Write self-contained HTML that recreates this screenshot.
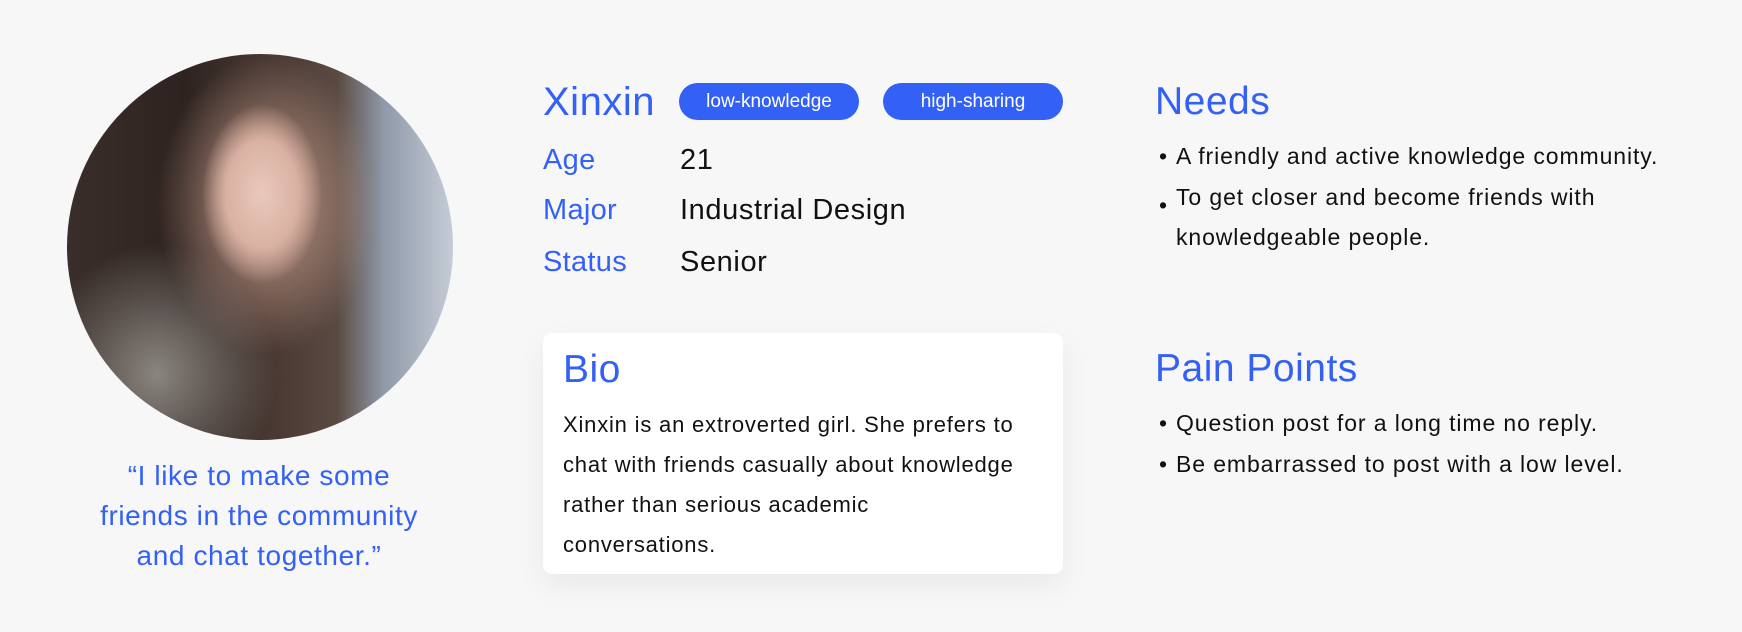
<!DOCTYPE html>
<html><head><meta charset="utf-8"><style>
*{margin:0;padding:0;box-sizing:border-box}
body{width:1742px;height:632px;background:#f7f7f7;font-family:"Liberation Sans","DejaVu Sans",sans-serif;position:relative;overflow:hidden;color:#111}
.abs{position:absolute;white-space:nowrap}
.blue{color:#3361f5}
.photo{left:67px;top:54px;width:386px;height:386px;border-radius:50%;overflow:hidden;
background:
radial-gradient(ellipse 60px 90px at 195px 140px,#e9c9bc 0%,#d9b1a2 60%,rgba(0,0,0,0) 100%),
radial-gradient(ellipse 110px 150px at 200px 150px,#c39a8a 0%,rgba(70,50,45,0) 100%),
radial-gradient(ellipse 120px 130px at 90px 320px,#8a8580 0%,rgba(0,0,0,0) 100%),
linear-gradient(90deg,#3a2e2b 0%,#2e2320 30%,#4a3a33 55%,#5a4a42 70%,#8f99a8 82%,#c5ccd6 100%)}
.pill{height:37px;border-radius:19px;background:#3361f5;color:#fff;font-size:19px;line-height:37px;text-align:center;width:180px}
.lbl{font-size:29px;color:#3361f5;left:543px;letter-spacing:0.3px}
.val{font-size:29px;left:680px;letter-spacing:0.6px}
.card{left:543px;top:333px;width:520px;height:241px;background:#fff;border-radius:9px;box-shadow:0 12px 30px rgba(0,0,0,0.06)}
.body{font-size:22px;line-height:40px;letter-spacing:0.8px}
.h2{font-size:39px;color:#3361f5;letter-spacing:0.5px}
.li{font-size:23px;left:1159px;letter-spacing:0.9px}
.li span{position:absolute;left:0;top:0}
</style></head><body>
<div class="abs photo"></div>
<div class="abs blue" style="left:59px;top:456px;width:400px;text-align:center;font-size:28px;line-height:40px;letter-spacing:0.6px">“I like to make some<br>friends in the community<br>and chat together.”</div>

<div class="abs blue" style="left:543px;top:80px;font-size:40px;letter-spacing:0.5px">Xinxin</div>
<div class="abs pill" style="left:679px;top:83px">low-knowledge</div>
<div class="abs pill" style="left:883px;top:83px">high-sharing</div>

<div class="abs lbl" style="top:144px">Age</div>
<div class="abs val" style="top:144px">21</div>
<div class="abs lbl" style="top:194px">Major</div>
<div class="abs val" style="top:194px">Industrial Design</div>
<div class="abs lbl" style="top:246px">Status</div>
<div class="abs val" style="top:246px">Senior</div>

<div class="abs card">
<div class="abs h2" style="left:20px;top:15px">Bio</div>
<div class="abs body" style="left:20px;top:72px">Xinxin is an extroverted girl. She prefers to<br>chat with friends casually about knowledge<br>rather than serious academic<br>conversations.</div>
</div>

<div class="abs h2" style="left:1155px;top:80px">Needs</div>
<div class="abs li" style="top:143px"><span>•</span><div style="margin-left:17px">A friendly and active knowledge community.</div></div>
<div class="abs li" style="top:177px;line-height:40px"><span style="top:8px">•</span><div style="margin-left:17px">To get closer and become friends with<br>knowledgeable people.</div></div>

<div class="abs h2" style="left:1155px;top:347px">Pain Points</div>
<div class="abs li" style="top:410px"><span>•</span><div style="margin-left:17px">Question post for a long time no reply.</div></div>
<div class="abs li" style="top:451px"><span>•</span><div style="margin-left:17px">Be embarrassed to post with a low level.</div></div>
</body></html>
